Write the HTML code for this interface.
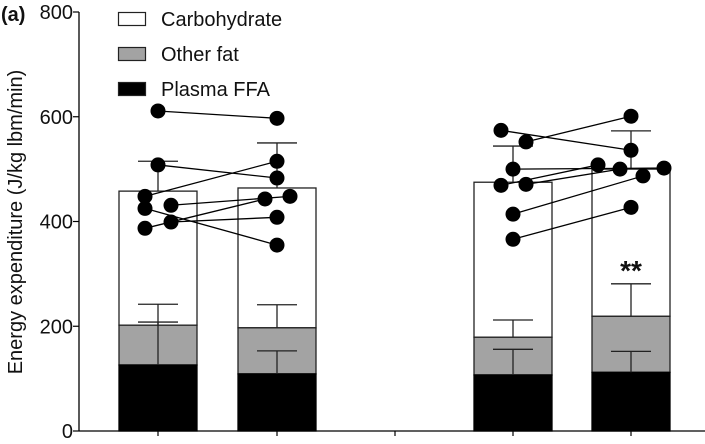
<!DOCTYPE html>
<html><head><meta charset="utf-8"><style>
html,body{margin:0;padding:0;background:#fff;}
svg{display:block;font-family:"Liberation Sans",Arial,sans-serif;}
</style></head><body>
<svg id="chart" width="705" height="444" viewBox="0 0 705 444" xmlns="http://www.w3.org/2000/svg"></svg>
<script>
const categories = ["group-1-a","group-1-b","group-2-a","group-2-b"];
const plasmaFFA = [126, 109, 107, 112];
const otherFat = [76, 88, 72, 107];
const carbohydrate = [256, 267, 296, 281];
const plasmaErr = [208, 153, 156, 152];
const fatErr = [242, 241, 212, 281];
const totalErr = [515, 550, 544, 573];
const yTicks = [0, 200, 400, 600, 800];
// paired subject points: [leftBar, rightBar]
const pairLeft1 = [611, 508, 448, 425, 431, 399, 387];
const pairRight1 = [597, 483, 515, 355, 448, 408, 443];
const pairLeft2 = [574, 552, 500, 469, 471, 414, 366];
const pairRight2 = [536, 601, 502, 508, 500, 487, 427];
const jitterL1 = [0,0,-13,-13,13,13,-13], jitterR1 = [0,0,0,0,13,0,-12];
const jitterL2 = [-12,13,0,-12,13,0,0], jitterR2 = [0,0,33,-33,-11,12,0];

const svg = document.getElementById('chart');
const NS = 'http://www.w3.org/2000/svg';
const y0 = 431, yTop = 12, axX = 79;
const y = v => y0 - v * (y0 - yTop) / 800;
const centers = [158, 277, 513, 631];
const x = i => centers[i];
const bw = 78;
function mk(tag, attrs, parent){ const e = document.createElementNS(NS, tag); for (const k in attrs) e.setAttribute(k, attrs[k]); (parent||svg).appendChild(e); return e; }

const axisG = mk('g', {});


mk('line', {x1:axX, y1:yTop, x2:axX, y2:y0, stroke:'#000', 'stroke-width':1.3}, axisG);
mk('line', {x1:axX, y1:y0, x2:705, y2:y0, stroke:'#000', 'stroke-width':1.3}, axisG);
yTicks.forEach(t => {
  mk('line', {x1:axX-6, y1:y(t), x2:axX, y2:y(t), stroke:'#000', 'stroke-width':1.2}, axisG);
  const tx = mk('text', {x:axX-6, y:y(t)+7, 'text-anchor':'end', 'font-size':20, fill:'#111'}, axisG);
  
  
  tx.textContent = t;
});
[158, 277, 395, 513, 631].forEach(cx => mk('line', {x1:cx, y1:y0, x2:cx, y2:y0+5, stroke:'#000', 'stroke-width':1.2}, axisG));

categories.forEach((c, i) => {
  const g = mk('g', {});
  
  
  const l = x(i) - bw/2;
  const p = plasmaFFA[i], f = p + otherFat[i], t = f + carbohydrate[i];
  mk('rect', {x:l, y:y(t), width:bw, height:y(f)-y(t), fill:'#fff', stroke:'#222', 'stroke-width':1.3}, g);
  mk('rect', {x:l, y:y(f), width:bw, height:y(p)-y(f), fill:'#a3a3a3', stroke:'#222', 'stroke-width':1.3}, g);
  mk('rect', {x:l, y:y(p), width:bw, height:y0-y(p), fill:'#000', stroke:'#000', 'stroke-width':1.3}, g);
  [[t, totalErr[i]], [f, fatErr[i]], [p, plasmaErr[i]]].forEach(([b, e]) => {
    mk('line', {x1:x(i), y1:y(b), x2:x(i), y2:y(e), stroke:'#222', 'stroke-width':1.3}, g);
    mk('line', {x1:x(i)-20, y1:y(e), x2:x(i)+20, y2:y(e), stroke:'#222', 'stroke-width':1.3}, g);
  });
});

function pairs(L, R, jl, jr, bi, name){
  const g = mk('g', {});
  
  
  L.forEach((lv, k) => {
    mk('line', {x1:x(bi)+jl[k], y1:y(lv), x2:x(bi+1)+jr[k], y2:y(R[k]), stroke:'#000', 'stroke-width':1.3}, g);
  });
  L.forEach((lv, k) => {
    const c1 = mk('circle', {cx:x(bi)+jl[k], cy:y(lv), r:7.5, fill:'#000'}, g);
    
    
    const c2 = mk('circle', {cx:x(bi+1)+jr[k], cy:y(R[k]), r:7.5, fill:'#000'}, g);
    
    
  });
}
pairs(pairLeft1, pairRight1, jitterL1, jitterR1, 0, 'paired-points-group-1');
pairs(pairLeft2, pairRight2, jitterL2, jitterR2, 2, 'paired-points-group-2');

const sig = mk('text', {x:x(3), y:280, 'text-anchor':'middle', 'font-size':28, 'font-weight':'bold', fill:'#111'});


sig.textContent = '**';

const leg = [['Carbohydrate','#fff',12],['Other fat','#a3a3a3',47],['Plasma FFA','#000',82]];
leg.forEach(([lab, col, ty]) => {
  const g = mk('g', {});
  
  
  mk('rect', {x:118.5, y:ty+0.5, width:27, height:13, fill:col, stroke:'#222', 'stroke-width':1.2}, g);
  const t = mk('text', {x:161, y:ty+14, 'font-size':20, fill:'#111'}, g);
  t.textContent = lab;
});

const yt = mk('text', {x:0, y:0, transform:'translate(22,222) rotate(-90)', 'text-anchor':'middle', 'font-size':20, fill:'#111'});


yt.textContent = 'Energy expenditure (J/kg lbm/min)';

const pl = mk('text', {x:1, y:21, 'font-size':20, 'font-weight':'bold', fill:'#111'});


pl.textContent = '(a)';
</script>
</body></html>
